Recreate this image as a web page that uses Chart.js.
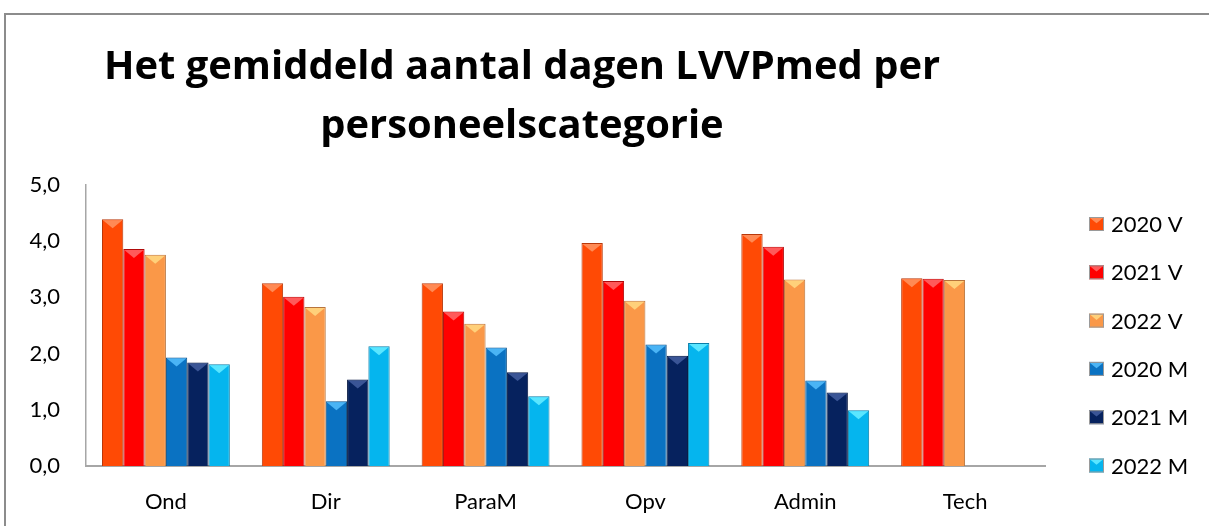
<!DOCTYPE html>
<html><head><meta charset="utf-8">
<script src="https://cdn.jsdelivr.net/npm/chart.js@4.4.0/dist/chart.umd.min.js"></script>
<style>html,body{margin:0;padding:0;background:#fff;overflow:hidden}#wrap{width:1209px;height:526px;position:relative}</style>
</head><body><div id="wrap"><canvas id="c" width="1209" height="526"></canvas></div>
<script>
const categories = ['Ond', 'Dir', 'ParaM', 'Opv', 'Admin', 'Tech'];
const seriesNames = ['2020 V', '2021 V', '2022 V', '2020 M', '2021 M', '2022 M'];
const v2020 = [4.39, 3.25, 3.25, 3.97, 4.13, 3.34];
const v2021 = [3.86, 3.01, 2.75, 3.29, 3.90, 3.33];
const v2022 = [3.76, 2.83, 2.53, 2.94, 3.32, 3.31];
const m2020 = [1.93, 1.15, 2.11, 2.16, 1.52, null];
const m2021 = [1.84, 1.54, 1.67, 1.96, 1.31, null];
const m2022 = [1.81, 2.13, 1.24, 2.19, 0.99, null];
const yTicks = [0, 1, 2, 3, 4, 5];
const titleLines = ['Het gemiddeld aantal dagen LVVPmed per', 'personeelscategorie'];

const fills = ['#FF4A05', '#FF0000', '#FA9848', '#0A72C2', '#06225E', '#05B5EE'];
const borders = ['#B8380A', '#B00A0A', '#B8743C', '#0A4F86', '#041640', '#0A7EA8'];
const lights = ['#FF8A55', '#FF5A5A', '#FFD07A', '#4AB4F5', '#3A5596', '#5AE6FF'];
const seriesData = [v2020, v2021, v2022, m2020, m2021, m2022];

const FONT = 'Lato, "Open Sans", sans-serif';
const TITLE_FONT = '"Open Sans", Lato, sans-serif';

function bevelRect(ctx, l, t, w, h, i) {
  ctx.save();
  ctx.fillStyle = lights[i];
  const d = Math.min(w * 0.42, h);
  ctx.beginPath();
  ctx.moveTo(l + 1, t + 1);
  ctx.lineTo(l + w - 1, t + 1);
  ctx.lineTo(l + w / 2, t + d);
  ctx.closePath();
  ctx.fill();
  ctx.restore();
}

const framePlugin = {
  id: 'frame',
  beforeDraw(chart) {
    const ctx = chart.ctx;
    ctx.save();
    ctx.fillStyle = '#fff';
    ctx.fillRect(0, 0, chart.width, chart.height);
    ctx.strokeStyle = '#8C8C8C';
    ctx.lineWidth = 2;
    ctx.beginPath();
    ctx.moveTo(chart.width + 2, 14);
    ctx.lineTo(5, 14);
    ctx.lineTo(5, chart.height + 2);
    ctx.stroke();
    ctx.restore();
  }
};

const bevelPlugin = {
  id: 'bevel',
  afterDatasetsDraw(chart) {
    const ctx = chart.ctx;
    chart.data.datasets.forEach((ds, i) => {
      const meta = chart.getDatasetMeta(i);
      meta.data.forEach((el, j) => {
        if (ds.data[j] == null) return;
        const p = el.getProps(['x', 'y', 'base', 'width'], true);
        bevelRect(ctx, p.x - p.width / 2, p.y, p.width, p.base - p.y, i);
      });
    });
  }
};

const titlePlugin = {
  id: 'customTitle',
  afterDraw(chart) {
    const ctx = chart.ctx;
    ctx.save();
    ctx.fillStyle = '#000';
    ctx.font = 'bold 40px ' + TITLE_FONT;
    const w = ctx.measureText(titleLines[0]).width;
    const size = Math.max(30, Math.min(46, 40 * 836 / w));
    ctx.font = 'bold ' + size.toFixed(1) + 'px ' + TITLE_FONT;
    ctx.textAlign = 'center';
    ctx.textBaseline = 'alphabetic';
    ctx.fillText(titleLines[0], 522, 79);
    ctx.fillText(titleLines[1], 522, 138);
    ctx.restore();
  }
};

const legendPlugin = {
  id: 'customLegend',
  afterDraw(chart) {
    const ctx = chart.ctx;
    ctx.save();
    ctx.font = '22px ' + FONT;
    ctx.textBaseline = 'middle';
    ctx.textAlign = 'left';
    chart.data.datasets.forEach((ds, i) => {
      const cy = 224 + i * 48.3;
      const l = 1089, t = cy - 7, w = 15, h = 14;
      ctx.fillStyle = fills[i];
      ctx.fillRect(l, t, w, h);
      bevelRect(ctx, l, t, w, h, i);
      ctx.strokeStyle = '#9a9a9a';
      ctx.lineWidth = 1;
      ctx.strokeRect(l + 0.5, t + 0.5, w - 1, h - 1);
      ctx.fillStyle = '#000';
      ctx.fillText(ds.label, 1111, cy + 1);
    });
    ctx.restore();
  }
};

new Chart(document.getElementById('c'), {
  type: 'bar',
  data: {
    labels: categories,
    datasets: seriesNames.map((name, i) => ({
      label: name,
      data: seriesData[i],
      backgroundColor: fills[i],
      borderColor: borders[i],
      borderWidth: 1,
      categoryPercentage: 0.8,
      barPercentage: 1.0
    }))
  },
  options: {
    responsive: false,
    animation: false,
    devicePixelRatio: 1,
    layout: { padding: { top: 185, right: 164, left: 0, bottom: 0 } },
    plugins: { legend: { display: false }, title: { display: false }, tooltip: { enabled: false } },
    scales: {
      x: {
        grid: { display: false, drawTicks: false },
        border: { display: true, color: '#A6A6A6', width: 2 },
        ticks: { color: '#000', font: { family: FONT, size: 22 }, padding: 23 },
        afterFit(s) { s.height = 60; }
      },
      y: {
        min: 0, max: 5,
        afterBuildTicks(s) { s.ticks = yTicks.map(v => ({ value: v })); },
        grid: { display: false, drawTicks: false },
        border: { display: true, color: '#A6A6A6', width: 1.5 },
        ticks: { color: '#000', font: { family: FONT, size: 22 }, padding: 26,
          callback: v => v.toFixed(1).replace('.', ',') },
        afterFit(s) { s.width = 86; }
      }
    }
  },
  plugins: [framePlugin, bevelPlugin, titlePlugin, legendPlugin]
});
</script></body></html>
